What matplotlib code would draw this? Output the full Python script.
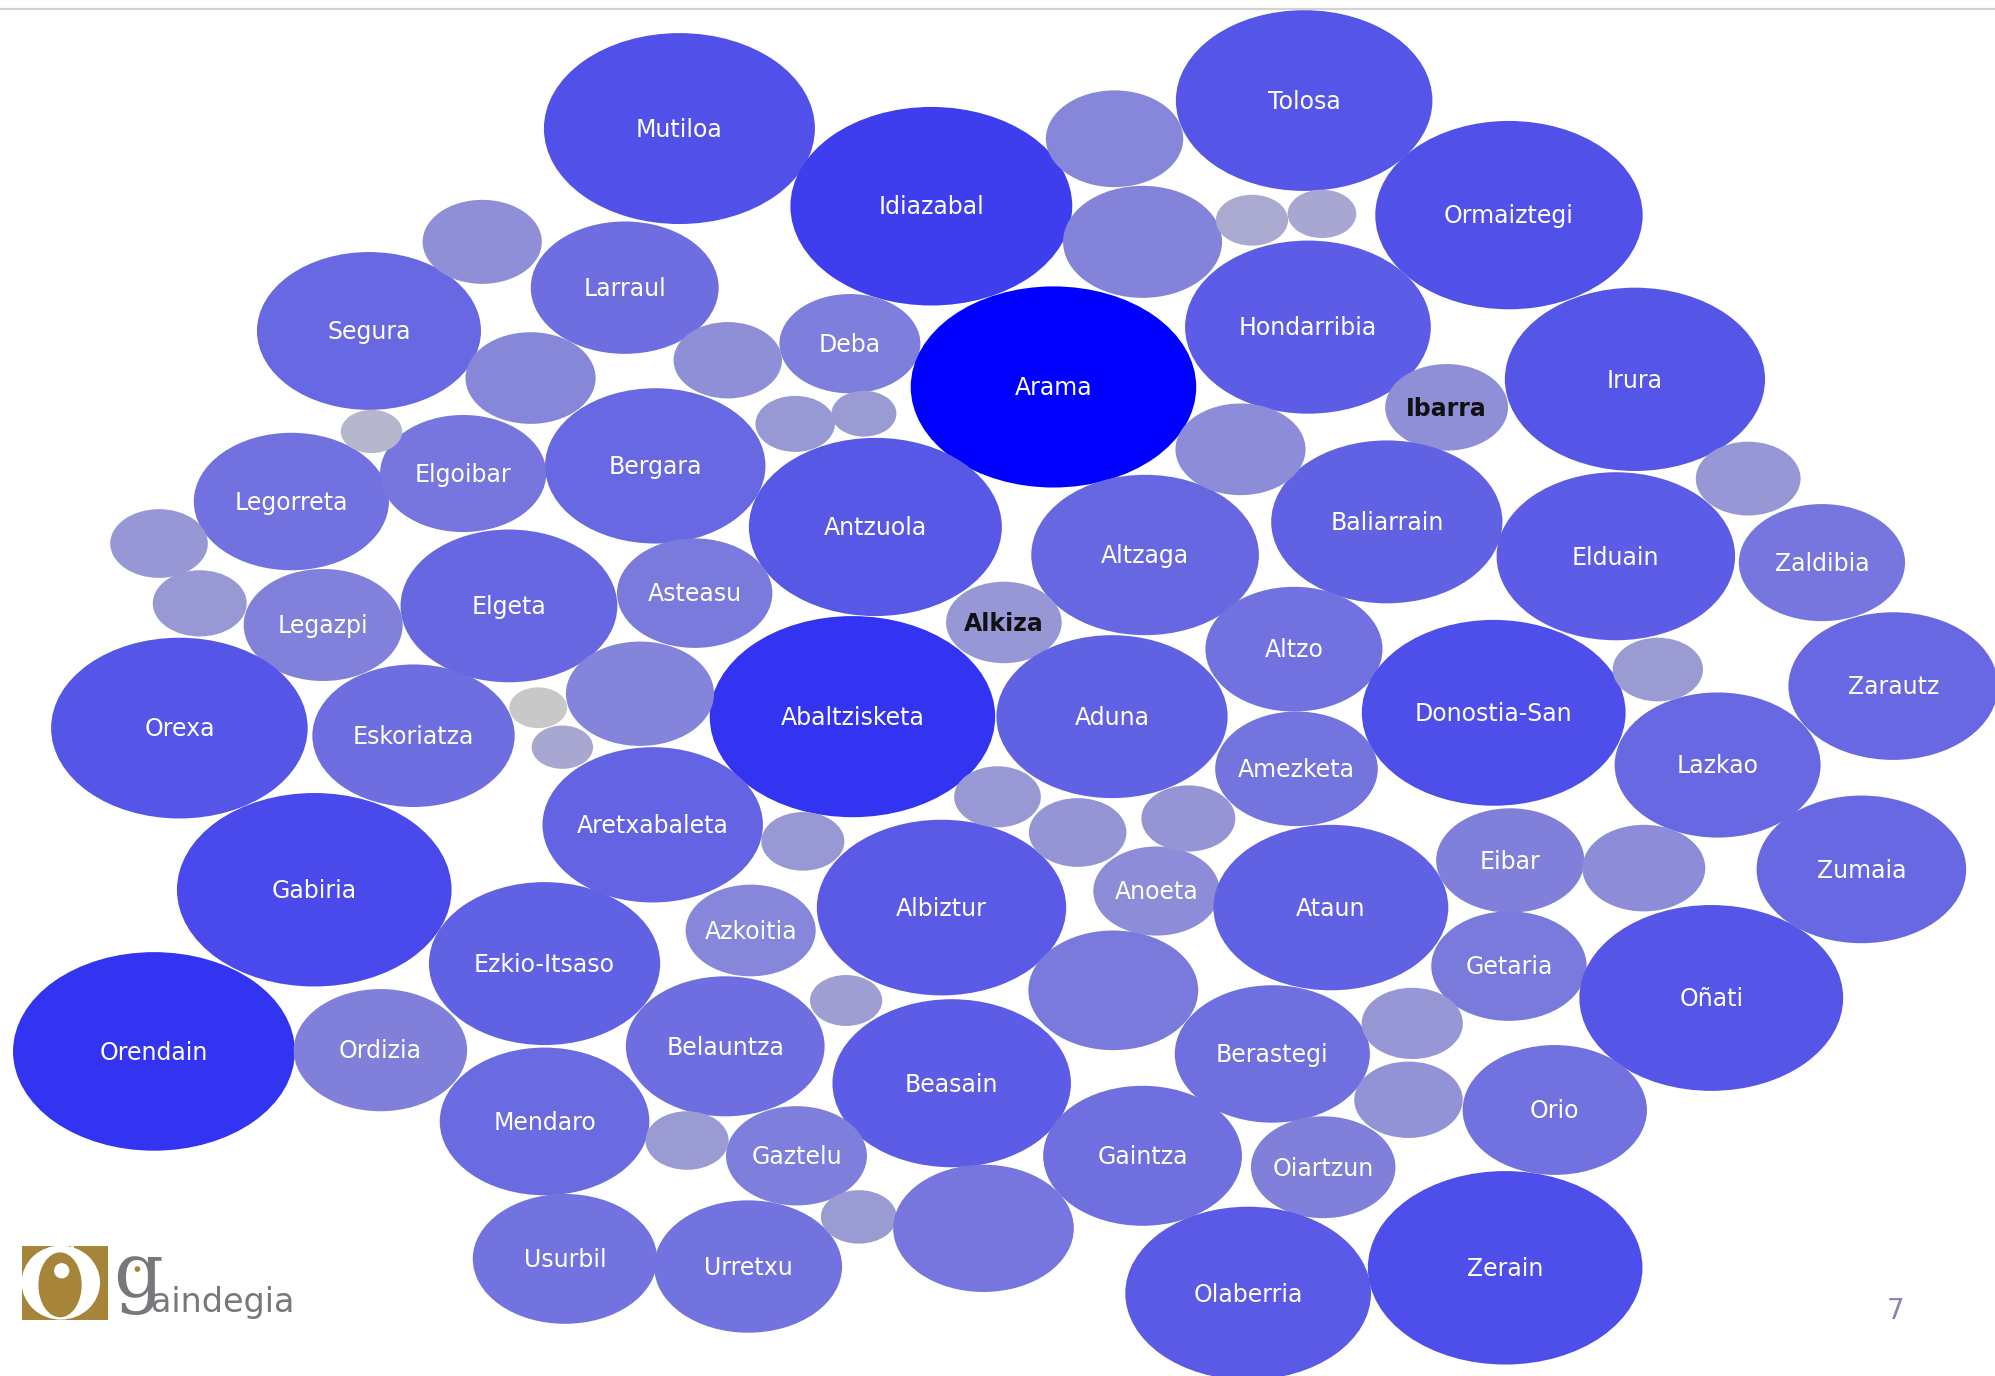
# -*- coding: utf-8 -*-
"""
Bubble chart of Gipuzkoa municipalities (packed bubbles, Gaindegia slide 7).
"""

import numpy as np
import matplotlib
matplotlib.use("Agg")
import matplotlib.pyplot as plt
from matplotlib.patches import Ellipse, Rectangle
from matplotlib.colors import LinearSegmentedColormap

############################################################################## Data

# bubble centres (slide px), vertical radius and colour intensity (0 grey .. 1 blue)
names = [
    "Mutiloa", "Idiazabal", "Tolosa", "Ormaiztegi", "Larraul", "Segura", "Deba",
    "Arama", "Hondarribia", "Irura", "Ibarra", "Legorreta", "Elgoibar", "Bergara",
    "Antzuola", "Altzaga", "Baliarrain", "Elduain", "Zaldibia", "Elgeta", "Asteasu",
    "Legazpi", "Alkiza", "Altzo", "Zarautz", "Orexa", "Eskoriatza", "Abaltzisketa",
    "Aduna", "Donostia-San", "Amezketa", "Lazkao", "Aretxabaleta", "Zumaia",
    "Gabiria", "Albiztur", "Anoeta", "Ataun", "Eibar", "Azkoitia", "Ezkio-Itsaso",
    "Getaria", "Oñati", "Orendain", "Ordizia", "Belauntza", "Beasain", "Berastegi",
    "Orio", "Mendaro", "Gaztelu", "Gaintza", "Oiartzun", "Usurbil", "Urretxu",
    "Olaberria", "Zerain",
    "", "", "", "", "", "", "", "", "", "", "", "", "", "", "", "", "",
    "", "", "", "", "", "", "", "", "", "", "", "", "",
]
cx = [
    534, 732, 1025, 1186, 491, 290, 668,
    828, 1028, 1285, 1137, 229, 364, 515,
    688, 900, 1090, 1270, 1432, 400, 546,
    254, 789, 1017, 1488, 141, 325, 670,
    874, 1174, 1019, 1350, 513, 1463,
    247, 740, 909, 1046, 1187, 590, 428,
    1186, 1345, 121, 299, 570, 748, 1000,
    1222, 428, 626, 898, 1040, 444, 588,
    981, 1183,
    876, 898, 984, 1039, 379, 417, 572, 625, 679, 292, 975, 125, 157,
    1374, 503, 423, 442, 1303, 784, 847, 934, 631, 1292, 875, 665, 1110,
    1107, 540, 675, 773, 841,
]
cy = [
    101, 162, 79, 169, 226, 260, 270,
    304, 257, 298, 320, 394, 372, 366,
    414, 436, 410, 437, 442, 476, 466,
    491, 489, 510, 539, 572, 578, 563,
    563, 560, 604, 601, 648, 683,
    699, 713, 700, 713, 676, 731, 757,
    759, 784, 826, 825, 822, 851, 828,
    872, 881, 908, 908, 917, 989, 995,
    1016, 996,
    109, 190, 173, 168, 190, 297, 283, 333, 325, 339, 353, 427, 474,
    376, 545, 556, 587, 526, 626, 654, 643, 661, 682, 778, 786, 804,
    864, 896, 956, 965, 1028,
]
radius = [
    75, 78, 71, 74, 52, 62, 39,
    79, 68, 72, 34, 54, 46, 61,
    70, 63, 64, 66, 46, 60, 43,
    44, 32, 49, 58, 71, 56, 79,
    64, 73, 45, 57, 61, 58,
    76, 69, 35, 65, 41, 36, 64,
    43, 73, 78, 48, 55, 66, 54,
    51, 58, 39, 55, 40, 51, 52,
    68, 76,
    38, 44, 20, 19, 33, 36, 30, 22, 18, 17, 36, 27, 26,
    29, 41, 16, 17, 25, 24, 27, 26, 23, 34, 47, 20, 28,
    30, 23, 21, 50, 31,
]
shade = [
    0.76, 0.83, 0.74, 0.76, 0.60, 0.63, 0.49,
    1.00, 0.70, 0.74, 0.38, 0.58, 0.55, 0.63,
    0.72, 0.64, 0.67, 0.70, 0.55, 0.64, 0.52,
    0.47, 0.33, 0.58, 0.63, 0.74, 0.60, 0.86,
    0.67, 0.78, 0.56, 0.63, 0.66, 0.63,
    0.80, 0.71, 0.40, 0.67, 0.48, 0.44, 0.67,
    0.52, 0.74, 0.86, 0.48, 0.60, 0.70, 0.59,
    0.58, 0.62, 0.49, 0.59, 0.48, 0.57, 0.57,
    0.71, 0.78,
    0.44, 0.46, 0.20, 0.22, 0.38, 0.43, 0.38, 0.32, 0.30, 0.12, 0.40, 0.33, 0.32,
    0.33, 0.45, 0.00, 0.22, 0.30, 0.32, 0.34, 0.34, 0.32, 0.40, 0.52, 0.28, 0.33,
    0.36, 0.30, 0.30, 0.55, 0.38,
]
dark_labels = ["Ibarra", "Alkiza"]
page_number = "7"

############################################################################## Plot

ASPECT = 1.42          # bubbles are drawn stretched horizontally
W, H = 1568, 1081      # slide coordinate system

cmap = LinearSegmentedColormap.from_list(
    "bubbles",
    [(0.0, "#c8c8c8"), (0.2, "#aaaad0"), (0.4, "#8c8cd8"),
     (0.6, "#6e6ee0"), (0.8, "#4a4aec"), (1.0, "#0000ff")])

fig = plt.figure(figsize=(19.95, 13.76), dpi=100)
ax = fig.add_axes([0, 0, 1, 1])
ax.set_xlim(0, W)
ax.set_ylim(H, 0)
ax.axis("off")

# top rule of the slide
ax.axhline(7.3, color="#d2d2d2", linewidth=1.6)

for name, x, y, r, s in zip(names, cx, cy, radius, shade):
    ax.add_patch(Ellipse((x, y), 2 * r * ASPECT, 2 * r,
                         facecolor=cmap(s), edgecolor="none"))
    if name:
        dark = name in dark_labels
        ax.text(x, y + 1, name, ha="center", va="center", fontsize=17,
                family="DejaVu Sans", weight="bold" if dark else "normal",
                color="#111111" if dark else "white")

# page number
ax.text(1490, 1030, page_number, ha="center", va="center", fontsize=20,
        color="#8686b2", family="DejaVu Sans")

# Gaindegia logo
gold = "#a6853a"
grey = "#77787c"
box = Rectangle((17.3, 978.5), 67.6, 58.2, facecolor=gold, edgecolor="none")
ax.add_patch(box)
ring = Ellipse((47.8, 1007.6), 61.6, 58.2, facecolor="white", edgecolor="none")
ax.add_patch(ring)
ring.set_clip_path(box)
ax.add_patch(Ellipse((47.2, 1009.4), 34, 51, facecolor=gold, edgecolor="none"))
ax.add_patch(Ellipse((48.5, 998.3), 12, 12, facecolor="white", edgecolor="none"))
ax.add_patch(Rectangle((55.6, 978.5), 2.6, 6.5, facecolor="white", edgecolor="none"))
ax.text(89, 1020, "g", ha="left", va="baseline", fontsize=56, color=grey,
        family="DejaVu Serif")
ax.add_patch(Ellipse((108, 997), 4.5, 4.5, facecolor=gold, edgecolor="none"))
ax.text(119, 1031, "aindegia", ha="left", va="baseline", fontsize=24,
        color=grey, family="DejaVu Sans")

plt.savefig("out.png", dpi=100)
plt.close()
